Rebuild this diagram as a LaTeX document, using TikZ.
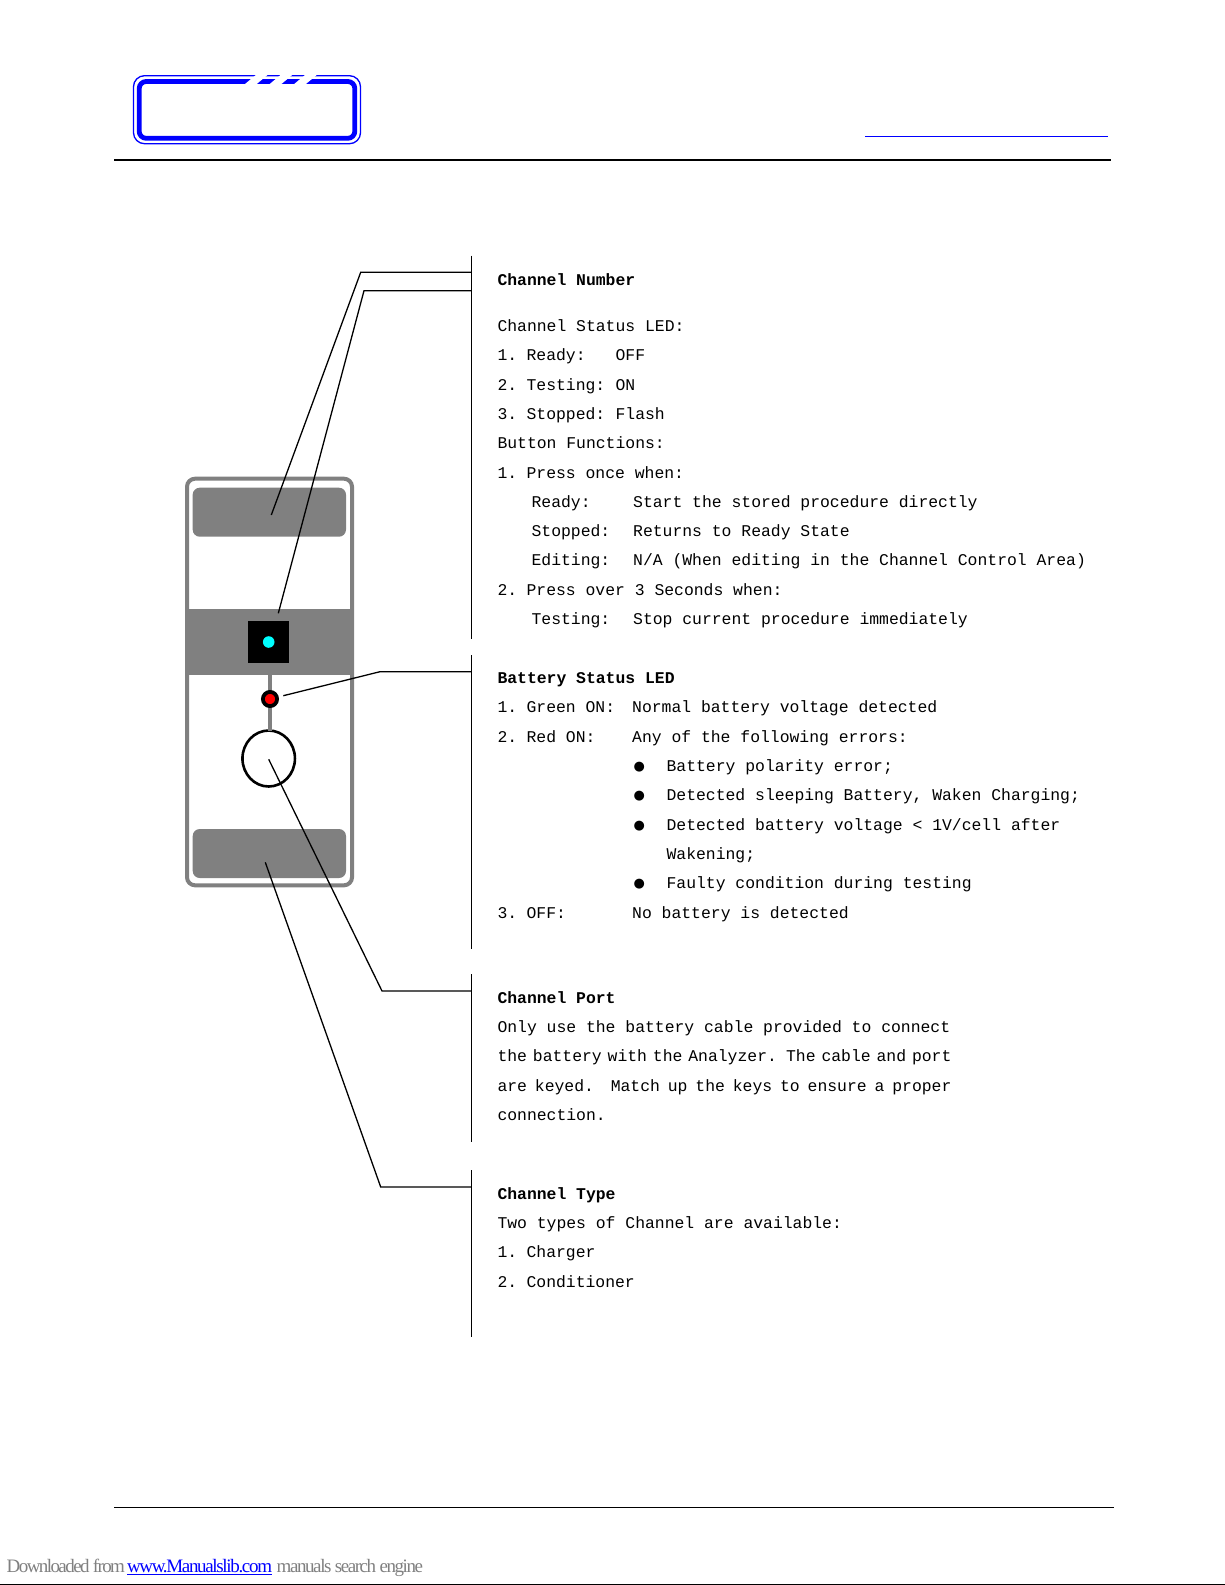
\documentclass[tikz,border=0pt]{standalone}
\usepackage{fontspec}
\usepackage{xcolor}
\setmainfont{Liberation Mono}
\newfontfamily\symfont{DejaVu Sans}
\newfontfamily\footfont[LetterSpace=-8.3]{Liberation Serif}
\newfontfamily\sitefont[LetterSpace=-7]{Liberation Serif}
\newfontfamily\enginefont[LetterSpace=-7.5]{Liberation Serif}
\usetikzlibrary{shapes.geometric}
\definecolor{logoBlue}{RGB}{0,0,255}
\definecolor{panelGray}{RGB}{128,128,128}
\definecolor{ledCyan}{RGB}{0,255,255}
\definecolor{ledRed}{RGB}{255,0,0}
\tikzset{
  logoframe/.style={draw=logoBlue, inner sep=0pt, outer sep=0pt},
  panelframe/.style={draw=panelGray, line width=4pt, rounded corners=8pt, inner sep=0pt, outer sep=0pt, minimum width=165pt, minimum height=406.6pt},
  pad/.style={fill=panelGray, rounded corners=7pt, inner sep=0pt, outer sep=0pt, minimum width=153.3pt, minimum height=49pt},
  band/.style={fill=panelGray, inner sep=0pt, outer sep=0pt, minimum width=169pt, minimum height=66pt},
  dot/.style={circle, inner sep=0pt, outer sep=0pt},
  leader/.style={draw=black, line width=1.3pt},
  rulebar/.style={draw=black, line width=1.3pt},
  stem/.style={draw=panelGray, line width=4pt},
  textblock/.style={anchor=north west, inner sep=0pt, outer sep=0pt, align=left, font=\fontsize{16.4}{29.3}\selectfont},
  footnode/.style={anchor=base west, inner sep=0pt, outer sep=0pt, font=\footfont\fontsize{19}{20}\selectfont}
}
\newcommand{\tabcol}[2]{\makebox[#1pt][l]{#2}}
\newcommand{\num}[1]{\tabcol{29.1}{#1}}
\newcommand{\blt}{\tabcol{169.1}{\hspace*{136.2pt}\raisebox{1pt}{\symfont\fontsize{13}{29.3}\selectfont ●}}}
\newcommand{\heading}[1]{\textbf{#1}}

\begin{document}
\begin{tikzpicture}[x=1pt, y=-1pt]
  \useasboundingbox (0,0) rectangle (1225,1585);

  \node[logoframe, line width=1.3pt, rounded corners=11pt, minimum width=227pt, minimum height=68pt] (logoouter) at (247,109.7) {};
  \node[logoframe, line width=4.8pt, rounded corners=7pt, minimum width=215.6pt, minimum height=56.8pt] (logoinner) at (247,109.9) {};
  \foreach \dx in {0,24.7,49.2}
    \fill[white] (243.8+\dx,85) -- (255.5+\dx,85) -- (268.1+\dx,74.5) -- (256.4+\dx,74.5) -- cycle;

  \coordinate (headleft) at (114,160);
  \coordinate (headright) at (1111,160);
  \coordinate (linkleft) at (865,136);
  \coordinate (linkright) at (1107.7,136);
  \draw[line width=2pt] (headleft) -- (headright);
  \draw[logoBlue, line width=1pt] (linkleft) -- (linkright);

  \node[panelframe] (panel) at (269.5,682) {};
  \node[pad] (toppad) at (269.35,512.2) {};
  \node[pad] (botpad) at (269.35,853.5) {};
  \node[band] (midband) at (269.5,642) {};
  \node[fill=black, inner sep=0pt, outer sep=0pt, minimum width=41pt, minimum height=41.7pt] (button) at (268.5,641.85) {};
  \node[dot, fill=ledCyan, minimum size=11.6pt] (statusled) at (268.7,642) {};
  \node[ellipse, draw=black, line width=2.6pt, inner sep=0pt, outer sep=0pt, minimum width=52.5pt, minimum height=56pt] (port) at (268.7,758.5) {};
  \coordinate (ledx) at (270,699);
  \draw[stem] (ledx |- midband.south) -- (ledx |- port.north);
  \node[dot, fill=ledRed, draw=black, line width=3.8pt, minimum size=14.2pt] (batled) at (ledx) {};

  \coordinate (rule1a) at (471.5,255.5);
  \coordinate (rule1b) at (471.5,639);
  \coordinate (rule2a) at (471.5,655);
  \coordinate (rule2b) at (471.5,948.5);
  \coordinate (rule3a) at (471.5,974);
  \coordinate (rule3b) at (471.5,1142);
  \coordinate (rule4a) at (471.5,1170);
  \coordinate (rule4b) at (471.5,1337);
  \draw[rulebar] (rule1a) -- (rule1b);
  \draw[rulebar] (rule2a) -- (rule2b);
  \draw[rulebar] (rule3a) -- (rule3b);
  \draw[rulebar] (rule4a) -- (rule4b);

  \coordinate (tipnumber) at (271.3,515);
  \coordinate (elbownumber) at (360.7,272.3);
  \coordinate (tipbutton) at (278.3,613.3);
  \coordinate (elbowbutton) at (364,290.7);
  \coordinate (tipled) at (283.3,695.7);
  \coordinate (elbowled) at (380,671.7);
  \coordinate (tipport) at (268.7,759.3);
  \coordinate (elbowport) at (382,991);
  \coordinate (tiptype) at (265.3,862.3);
  \coordinate (elbowtype) at (380.7,1187);
  \draw[leader] (tipnumber) -- (elbownumber) -- (rule1a |- elbownumber);
  \draw[leader] (tipbutton) -- (elbowbutton) -- (rule1a |- elbowbutton);
  \draw[leader] (tipled) -- (elbowled) -- (rule2a |- elbowled);
  \draw[leader] (tipport) -- (elbowport) -- (rule3a |- elbowport);
  \draw[leader] (tiptype) -- (elbowtype) -- (rule4a |- elbowtype);

  \node[textblock] (numbertext) at (497.5,264.5) {\strut\heading{Channel Number}\\[17.2pt]
    Channel Status LED:\\
    \num{1.}\tabcol{89}{Ready:}OFF\\
    \num{2.}\tabcol{89}{Testing:}ON\\
    \num{3.}\tabcol{89}{Stopped:}Flash\\
    Button Functions:\\
    \num{1.}Press once when:\\
    \tabcol{135.7}{\hspace*{34.1pt}Ready:}Start the stored procedure directly\\
    \tabcol{135.7}{\hspace*{34.1pt}Stopped:}Returns to Ready State\\
    \tabcol{135.7}{\hspace*{34.1pt}Editing:}N/A (When editing in the Channel Control Area)\\
    \num{2.}Press over 3 Seconds when:\\
    \tabcol{135.7}{\hspace*{34.1pt}Testing:}Stop current procedure immediately};

  \node[textblock] (ledtext) at (497.5,663.1) {\strut\heading{Battery Status LED}\\
    \tabcol{134.7}{\num{1.}Green ON:}Normal battery voltage detected\\
    \tabcol{134.7}{\num{2.}Red ON:}Any of the following errors:\\
    \blt Battery polarity error;\\
    \blt Detected sleeping Battery, Waken Charging;\\
    \blt Detected battery voltage < 1V/cell after\\
    \hspace*{169.1pt}Wakening;\\
    \blt Faulty condition during testing\\
    \tabcol{134.7}{\num{3.}OFF:}No battery is detected};

  \node[textblock] (porttext) at (497.5,982.8) {\strut\heading{Channel Port}\\
    Only use the battery cable provided to connect\\
    {\spaceskip=5.9pt the battery with the Analyzer. The cable and port}\\
    {\spaceskip=7.9pt are keyed.~~\hspace{1pt}Match up the keys to ensure a proper}\\
    connection.};

  \node[textblock] (typetext) at (497.5,1178.7) {\strut\heading{Channel Type}\\
    Two types of Channel are available:\\
    \num{1.}Charger\\
    \num{2.}Conditioner};

  \coordinate (footleft) at (114,1507.3);
  \coordinate (footright) at (1114,1507.3);
  \coordinate (edgeleft) at (0,1584.5);
  \coordinate (edgeright) at (1225,1584.5);
  \draw[line width=1pt] (footleft) -- (footright);
  \draw[line width=1pt] (edgeleft) -- (edgeright);

  \node[footnode, text=panelGray] (dl) at (6.7,1572.8) {Downloaded from};
  \node[footnode, text=logoBlue] (site) at (127,1572.8) {\sitefont\fontsize{19}{20}\selectfont\underline{www.Manualslib.com}};
  \node[footnode, text=panelGray] (engine) at (276.7,1572.8) {\enginefont\fontsize{19}{20}\selectfont manuals search engine};
\end{tikzpicture}
\end{document}
